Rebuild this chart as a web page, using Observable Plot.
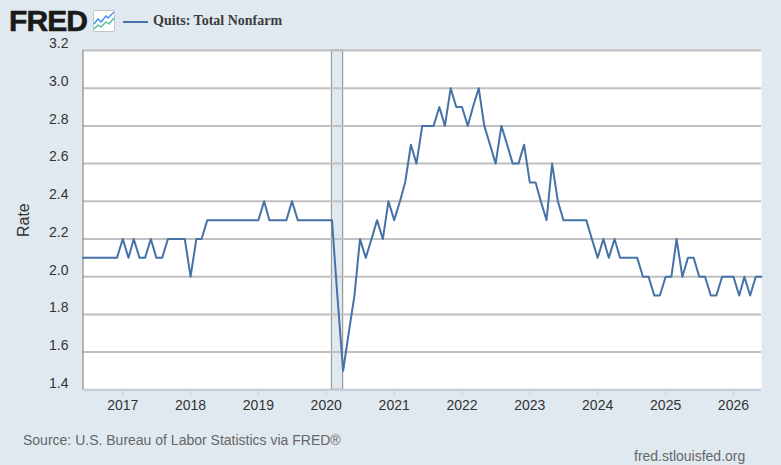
<!DOCTYPE html>
<html>
<head>
<meta charset="utf-8">
<script src="https://cdn.jsdelivr.net/npm/d3@7"></script>
<script src="https://cdn.jsdelivr.net/npm/@observablehq/plot@0.6"></script>
<style>
  html,body{margin:0;padding:0;background:#e1e9f0;}
  #wrap{position:relative;width:781px;height:465px;overflow:hidden;background:#e1e9f0;font-family:"Liberation Sans",Arial,sans-serif;}
  #wrap svg.plot{position:absolute;left:0;top:0;}
  .ov{position:absolute;white-space:nowrap;line-height:1;}
</style>
</head>
<body>
<div id="wrap">
  <div class="ov" style="left:9px;top:9px;font-size:30px;line-height:24px;font-weight:700;color:#1a1a1a;letter-spacing:-0.9px;-webkit-text-stroke:0.6px #1a1a1a;">FRED</div>
  <svg class="ov" style="left:93px;top:10px;" width="22" height="22" viewBox="0 0 22 22">
    <rect x="0.5" y="0.5" width="21" height="21" rx="1.5" fill="#fff" stroke="#c4c4c4"/>
    <polyline points="1,14 5,9 8,12 13,6 15,8 21,2" fill="none" stroke="#3a8ee6" stroke-width="1.3"/>
    <polyline points="1,19 5,15 8,17 13,12 16,14 21,8" fill="none" stroke="#45b89a" stroke-width="1.3"/>
  </svg>
  <div class="ov" style="left:123px;top:21px;width:25px;height:2px;background:#4572a7;"></div>
  <div class="ov" style="left:153px;top:14px;font-family:'Liberation Serif',serif;font-size:14px;font-weight:700;color:#3b3b3b;">Quits: Total Nonfarm</div>
  <div class="ov" style="left:23px;top:433px;font-size:14px;color:#666;">Source: U.S. Bureau of Labor Statistics via FRED®</div>
  <div class="ov" style="left:634px;top:449px;font-size:14px;color:#666;">fred.stlouisfed.org</div>
</div>
<script>
const startYear = 2016, startMonth = 5; // June 2016 is the first observation
const rates = [
  2.1,2.1,2.1,2.1,2.1,2.1,2.1,                         // 2016 Jun-Dec
  2.2,2.1,2.2,2.1,2.1,2.2,2.1,2.1,2.2,2.2,2.2,2.2,     // 2017
  2.0,2.2,2.2,2.3,2.3,2.3,2.3,2.3,2.3,2.3,2.3,2.3,     // 2018
  2.3,2.4,2.3,2.3,2.3,2.3,2.4,2.3,2.3,2.3,2.3,2.3,     // 2019
  2.3,2.3,1.9,1.5,1.7,1.9,2.2,2.1,2.2,2.3,2.2,2.4,     // 2020
  2.3,2.4,2.5,2.7,2.6,2.8,2.8,2.8,2.9,2.8,3.0,2.9,     // 2021
  2.9,2.8,2.9,3.0,2.8,2.7,2.6,2.8,2.7,2.6,2.6,2.7,     // 2022
  2.5,2.5,2.4,2.3,2.6,2.4,2.3,2.3,2.3,2.3,2.3,2.2,     // 2023
  2.1,2.2,2.1,2.2,2.1,2.1,2.1,2.1,2.0,2.0,1.9,1.9,     // 2024
  2.0,2.0,2.2,2.0,2.1,2.1,2.0,2.0,1.9,1.9,2.0,2.0,     // 2025
  2.0,1.9,2.0,1.9,2.0,2.0                              // 2026 Jan-Jun
];
const yTicks = [1.4,1.6,1.8,2.0,2.2,2.4,2.6,2.8,3.0,3.2];
const xTickYears = [2017,2018,2019,2020,2021,2022,2023,2024,2025,2026];
const recession = [{start:new Date(Date.UTC(2020,1,1)), end:new Date(Date.UTC(2020,3,1))}];
const series = rates.map((v,i)=>({date:new Date(Date.UTC(startYear,startMonth+i,1)), value:v}));
const xTicks = xTickYears.map(y=>new Date(Date.UTC(y,0,1)));

const chart = Plot.plot({
  width:781, height:465,
  marginLeft:82.5, marginRight:20, marginTop:50, marginBottom:75.7,
  style:{background:"transparent",fontFamily:"'Liberation Sans',Arial,sans-serif"},
  x:{type:"utc",domain:[new Date(Date.UTC(2016,5,1)),new Date(Date.UTC(2026,5,1))]},
  y:{domain:[1.4,3.2]},
  marks:[
    Plot.frame({fill:"#fff",stroke:null}),
    Plot.rectX(recession,{x1:"start",x2:"end",fill:"#e1e9f0",stroke:"#9a9a9a",strokeWidth:1.2}),
    Plot.ruleY(yTicks,{stroke:"#c0c0c0",strokeWidth:2}),
    Plot.ruleX([new Date(Date.UTC(2016,5,1))],{stroke:"#8a8a8a",strokeWidth:1.2}),
    Plot.ruleY([1.4],{stroke:"#c0d0e0",strokeWidth:1.6}),
    Plot.axisY({ticks:yTicks,tickSize:0,tickPadding:0,dx:-14.5,dy:-6.6,fontSize:14,color:"#333",tickFormat:d=>d.toFixed(1),label:null}),
    Plot.axisX({ticks:xTicks,tickSize:6,stroke:"#c0d0e0",tickPadding:4,fontSize:14,color:"#333",tickFormat:d=>String(d.getUTCFullYear()),label:null}),
    Plot.line(series,{x:"date",y:"value",stroke:"#4572a7",strokeWidth:2,curve:"linear"}),
    Plot.text(["Rate"],{frameAnchor:"left",textAnchor:"middle",dx:-59.5,dy:0,rotate:-90,fontSize:16,fill:"#333"})
  ]
});
document.getElementById("wrap").appendChild(chart);
</script>
</body>
</html>
